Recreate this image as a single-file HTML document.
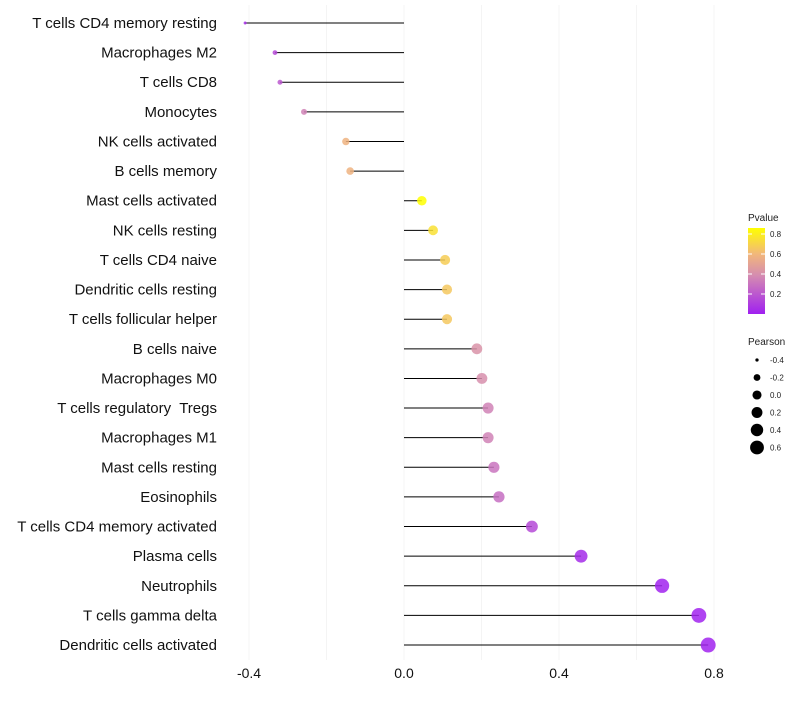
<!DOCTYPE html>
<html><head><meta charset="utf-8"><style>
body{margin:0;background:#fff;font-family:"Liberation Sans",sans-serif}
svg text{font-family:"Liberation Sans",sans-serif;white-space:pre}
</style></head><body>
<svg id="chart" width="800" height="700" xmlns="http://www.w3.org/2000/svg">
<defs><linearGradient id="pg" x1="0" y1="1" x2="0" y2="0">
<stop offset="0" stop-color="#a020f0"/><stop offset="0.45" stop-color="#d58cb0"/><stop offset="0.7" stop-color="#f2b87a"/><stop offset="1" stop-color="#ffff00"/></linearGradient></defs>
<g id="grid"></g>
<g id="marks"></g>
<g id="ylabels"></g>
<g id="xlabels"></g>
<g>
<text x="748" y="221" font-size="10" fill="#222">Pvalue</text>
<rect x="748" y="228" width="17" height="86" fill="url(#pg)"/>
<g id="pticks"></g>
</g>
<g>
<text x="748" y="345" font-size="10" fill="#222">Pearson</text>
<g id="sizeleg"></g>
</g>
</svg>
<script>
const categories=["T cells CD4 memory resting","Macrophages M2","T cells CD8","Monocytes","NK cells activated","B cells memory","Mast cells activated","NK cells resting","T cells CD4 naive","Dendritic cells resting","T cells follicular helper","B cells naive","Macrophages M0","T cells regulatory  Tregs","Macrophages M1","Mast cells resting","Eosinophils","T cells CD4 memory activated","Plasma cells","Neutrophils","T cells gamma delta","Dendritic cells activated"];
const pearson=[-0.41,-0.333,-0.32,-0.258,-0.15,-0.139,0.046,0.075,0.106,0.111,0.111,0.188,0.201,0.217,0.217,0.232,0.245,0.33,0.457,0.666,0.761,0.785];
const pvalues=[0.05,0.15,0.2,0.35,0.58,0.58,0.88,0.75,0.68,0.66,0.66,0.42,0.4,0.35,0.35,0.3,0.28,0.15,0.04,0.01,0.01,0.01];
const xTicks=[-0.4,0,0.4,0.8];
const xTickLabels=["-0.4","0.0","0.4","0.8"];
const pTicks=[0.2,0.4,0.6,0.8];
const sizeLegend=[-0.4,-0.2,0,0.2,0.4,0.6];
const NS="http://www.w3.org/2000/svg";
const x=v=>404+v*387.5;
const y=i=>23+i*29.62;
const py=p=>314-p*100;
const rad=v=>Math.sqrt(Math.max(1,20.7+45*v));
function col(p){const st=[[0,[160,32,240]],[0.45,[213,140,176]],[0.7,[242,184,122]],[1,[255,255,0]]];const t=Math.min(1,p/0.86);
for(let k=1;k<st.length;k++){if(t<=st[k][0]){const a=st[k-1],b=st[k],f=(t-a[0])/(b[0]-a[0]);return `rgb(${a[1].map((c,j)=>Math.round(c+(b[1][j]-c)*f)).join(',')})`;}}return 'rgb(255,255,0)';}
function mk(tag,at,parent){const e=document.createElementNS(NS,tag);for(const k in at)e.setAttribute(k,at[k]);document.getElementById(parent).appendChild(e);return e;}
const grid=[];for(let v=-0.4;v<=0.81;v+=0.2)grid.push(v);
grid.forEach(v=>{const l=mk('line',{x1:x(v),x2:x(v),y1:5,y2:660,stroke:'#f4f4f4','stroke-width':1},'grid');

});
categories.forEach((c,i)=>{
const s=mk('line',{x1:x(0),x2:x(pearson[i]),y1:y(i),y2:y(i),stroke:'#000','stroke-width':1},'marks');


const p=mk('circle',{cx:x(pearson[i]),cy:y(i),r:rad(pearson[i]),fill:col(pvalues[i]),'fill-opacity':0.85},'marks');


const t=mk('text',{x:217,y:y(i)+5,'text-anchor':'end','font-size':15,fill:'#111'},'ylabels');t.textContent=c;

});
xTicks.forEach((v,i)=>{const t=mk('text',{x:x(v),y:678,'text-anchor':'middle','font-size':14,fill:'#111'},'xlabels');t.textContent=xTickLabels[i];

});
pTicks.forEach(p=>{mk('line',{x1:748,x2:752,y1:py(p),y2:py(p),stroke:'#fff'},'pticks');mk('line',{x1:761,x2:765,y1:py(p),y2:py(p),stroke:'#fff'},'pticks');
const t=mk('text',{x:770,y:py(p)+3,'font-size':8,fill:'#222'},'pticks');t.textContent=p.toFixed(1);

});
sizeLegend.forEach((v,i)=>{const cy=360+i*17.5;
const c=mk('circle',{cx:757,cy:cy,r:rad(v),fill:'#000'},'sizeleg');


const t=mk('text',{x:770,y:cy+3,'font-size':8,fill:'#222'},'sizeleg');t.textContent=v.toFixed(1);

});
</script>
</body></html>
